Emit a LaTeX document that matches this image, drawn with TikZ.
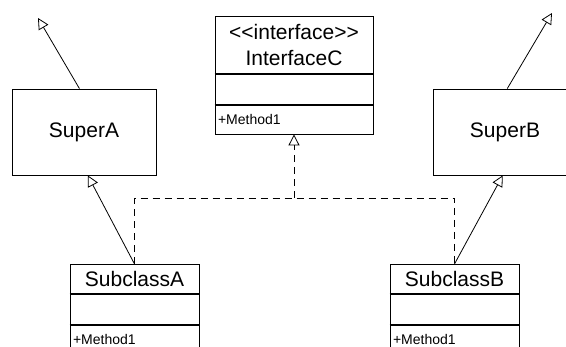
\documentclass[tikz,border=0pt]{standalone}
\usepackage{fontspec}
\setmainfont{Liberation Sans}
\usetikzlibrary{arrows.meta,positioning}

\begin{document}
\begin{tikzpicture}[x=1pt,y=-1pt,line width=0.8pt,
box/.style={draw, inner sep=0pt},
big/.style={font=\fontsize{21}{26}\selectfont},
head/.style={box, big, minimum height=#1},
slot/.style={box, minimum height=30pt},
ops/.style={box, inner xsep=3pt, minimum height=29pt, align=left, font=\fontsize{14}{16}\selectfont},
rule/.style={line width=1.6pt},
gen/.style={-{Triangle[open,length=11pt,width=11pt]}},
real/.style={dash pattern=on 7pt off 5pt}]
\useasboundingbox (0,0) rectangle (566,347);

% super classes
\node (supA) at (84,132) [box, big, minimum width=144pt, minimum height=86pt] {SuperA};
\node (supB) at (505,132) [box, big, minimum width=144pt, minimum height=86pt] {SuperB};

% interface
\node (ifc) at (294,16) [head=57pt, anchor=north, minimum width=158pt, align=center]
  {<\kern0pt<interface>\kern0pt>\\InterfaceC};
\node (ifc_attr) [slot, minimum width=158pt, below=0pt of ifc] {};
\node (ifc_ops) [ops, text width=152pt, below=0pt of ifc_attr] {+Method1};

% subclasses
\node (subA) at (134.5,264) [head=29pt, anchor=north, minimum width=129pt] {SubclassA};
\node (subA_attr) [slot, minimum width=129pt, below=0pt of subA] {};
\node (subA_ops) [ops, text width=123pt, below=0pt of subA_attr] {+Method1};

\node (subB) at (454.5,264) [head=29pt, anchor=north, minimum width=129pt] {SubclassB};
\node (subB_attr) [slot, minimum width=129pt, below=0pt of subB] {};
\node (subB_ops) [ops, text width=123pt, below=0pt of subB_attr] {+Method1};

\foreach \n in {ifc,ifc_attr,subA,subA_attr,subB,subB_attr}
  \draw [rule] (\n.south west) -- (\n.south east);

\coordinate (tipA) at (38,18);
\coordinate (tipB) at (552,13);
\coordinate (bus) at (294,198);

\draw [gen] (supA.96) -- (tipA);
\draw [gen] (supB.87) -- (tipB);
\draw [gen] (subA.north) -- (supA.-85);
\draw [gen] (subB.north) -- (supB.-93);
\draw [real] (subA.north) -- (subA.north |- bus) -- (subB.north |- bus) -- (subB.north);
\draw [real,gen] (bus) -- (ifc_ops.south);
\end{tikzpicture}
\end{document}
